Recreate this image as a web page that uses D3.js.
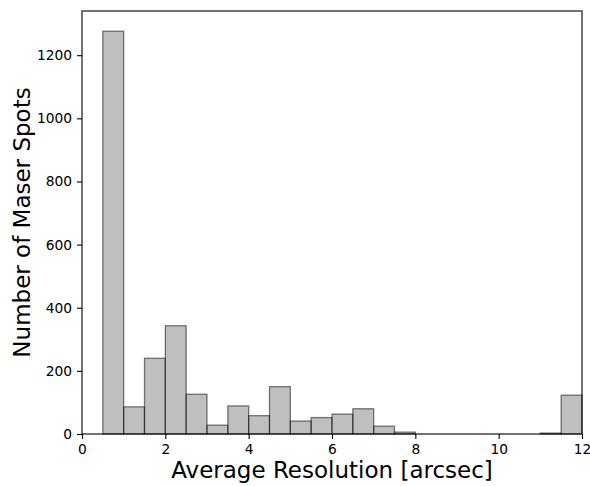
<!DOCTYPE html>
<html>
<head>
<meta charset="utf-8">
<script src="https://cdn.jsdelivr.net/npm/d3@7"></script>
<style>
  body { margin: 0; background: #fff; }
  text { font-family: "DejaVu Sans", sans-serif; }
</style>
</head>
<body>
<div id="chart"></div>
<script>
// Histogram bins (width 0.5 arcsec) and counts
const binStarts = [0.5, 1.0, 1.5, 2.0, 2.5, 3.0, 3.5, 4.0, 4.5, 5.0, 5.5, 6.0, 6.5, 7.0, 7.5,
                   8.0, 8.5, 9.0, 9.5, 10.0, 10.5, 11.0, 11.5];
const counts = [1276, 86, 240, 343, 126, 28, 89, 58, 150, 41, 52, 63, 80, 25, 6,
                0, 0, 0, 0, 0, 0, 3, 123];
const binWidth = 0.5;
const xTicks = [0, 2, 4, 6, 8, 10, 12];
const yTicks = [0, 200, 400, 600, 800, 1000, 1200];

let margin = { top: 11, right: 8, bottom: 52, left: 82 },
    width = 590 - margin.left - margin.right,
    height = 486 - margin.top - margin.bottom;

let svg = d3.select("#chart").append("svg")
    .attr("width", 590)
    .attr("height", 486)
    .append("g")
    .attr("transform", `translate(${margin.left}, ${margin.top})`);

let x = d3.scaleLinear().domain([0, 12]).range([0, width]);
let y = d3.scaleLinear().domain([0, 1340]).range([height, 0]);

let bins = binStarts.map((s, i) => ({ x0: s, x1: s + binWidth, n: counts[i] }));

// Bars: grey at half opacity, black edge at half opacity
svg.selectAll("rect.bar")
    .data(bins)
    .enter().append("rect")
    .attr("class", "bar")
    .attr("x", d => x(d.x0))
    .attr("y", d => y(d.n))
    .attr("width", d => x(d.x1) - x(d.x0))
    .attr("height", d => y(0) - y(d.n))
    .style("fill", "grey")
    .style("fill-opacity", 0.5)
    .style("stroke", "#000")
    .style("stroke-opacity", 0.5)
    .style("stroke-width", 1.3);

// Axes
let xAxis = svg.append("g")
    .attr("transform", `translate(0, ${height})`)
    .call(d3.axisBottom(x).tickValues(xTicks).tickSize(5).tickPadding(5).tickFormat(d3.format("d")));
let yAxis = svg.append("g")
    .call(d3.axisLeft(y).tickValues(yTicks).tickSize(5).tickPadding(5).tickFormat(d3.format("d")));

[xAxis, yAxis].forEach(a => {
    a.select(".domain").remove();
    a.selectAll("text").style("font-size", "13.8px").style("fill", "#000")
        .style("font-family", "'DejaVu Sans', sans-serif");
    a.selectAll("line").style("stroke", "#000").style("stroke-width", 1.1);
});

// Frame
svg.append("rect")
    .attr("x", 0).attr("y", 0)
    .attr("width", width).attr("height", height)
    .style("fill", "none")
    .style("stroke", "#000")
    .style("stroke-width", 1.1);

// Axis labels
svg.append("text")
    .attr("x", width / 2)
    .attr("y", height + 44)
    .attr("text-anchor", "middle")
    .style("font-size", "23px")
    .text("Average Resolution [arcsec]");

svg.append("text")
    .attr("transform", `translate(${-52}, ${height / 2}) rotate(-90)`)
    .attr("text-anchor", "middle")
    .style("font-size", "23px")
    .text("Number of Maser Spots");
</script>
</body>
</html>
